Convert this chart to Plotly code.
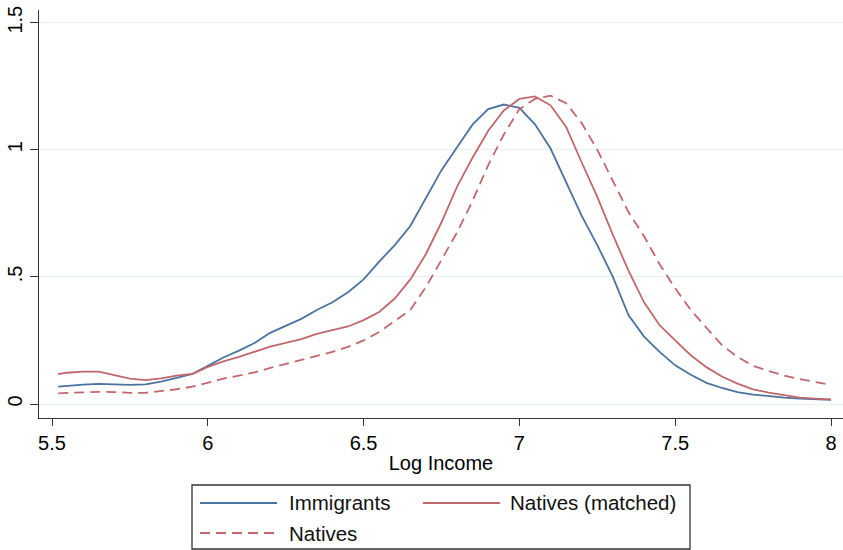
import plotly.graph_objects as go

# ---- data ----
log_income = [5.52, 5.55, 5.60, 5.65, 5.70, 5.75, 5.80, 5.85, 5.90, 5.95,
              6.00, 6.05, 6.10, 6.15, 6.20, 6.25, 6.30, 6.35, 6.40, 6.45,
              6.50, 6.55, 6.60, 6.65, 6.70, 6.75, 6.80, 6.85, 6.90, 6.95,
              7.00, 7.05, 7.10, 7.15, 7.20, 7.25, 7.30, 7.35, 7.40, 7.45,
              7.50, 7.55, 7.60, 7.65, 7.70, 7.75, 7.80, 7.85, 7.90, 7.95, 8.00]

immigrants = [0.068, 0.072, 0.076, 0.079, 0.077, 0.075, 0.077, 0.088, 0.103, 0.118,
              0.150, 0.183, 0.210, 0.240, 0.280, 0.308, 0.335, 0.370, 0.400, 0.440,
              0.490, 0.560, 0.625, 0.700, 0.810, 0.920, 1.010, 1.100, 1.160, 1.178,
              1.165, 1.100, 1.005, 0.870, 0.740, 0.625, 0.500, 0.350, 0.265, 0.205,
              0.152, 0.115, 0.083, 0.063, 0.047, 0.037, 0.030, 0.025, 0.021, 0.018, 0.016]

natives_matched = [0.118, 0.123, 0.127, 0.127, 0.114, 0.100, 0.094, 0.101, 0.112, 0.118,
                   0.146, 0.168, 0.185, 0.205, 0.226, 0.240, 0.255, 0.276, 0.290, 0.305,
                   0.330, 0.362, 0.415, 0.490, 0.590, 0.715, 0.855, 0.970, 1.075, 1.155,
                   1.200, 1.210, 1.175, 1.090, 0.950, 0.815, 0.665, 0.525, 0.400, 0.310,
                   0.250, 0.192, 0.145, 0.108, 0.080, 0.058, 0.045, 0.034, 0.025, 0.021, 0.018]

natives = [0.042, 0.044, 0.047, 0.048, 0.047, 0.044, 0.044, 0.050, 0.058, 0.068,
           0.085, 0.100, 0.112, 0.124, 0.142, 0.158, 0.172, 0.190, 0.205, 0.225,
           0.250, 0.283, 0.325, 0.370, 0.460, 0.565, 0.675, 0.800, 0.940, 1.060,
           1.160, 1.200, 1.213, 1.183, 1.105, 1.000, 0.875, 0.755, 0.660, 0.550,
           0.455, 0.370, 0.300, 0.232, 0.185, 0.150, 0.130, 0.112, 0.098, 0.085, 0.075]

x_ticks = [5.5, 6, 6.5, 7, 7.5, 8]
x_tick_labels = ["5.5", "6", "6.5", "7", "7.5", "8"]
y_ticks = [0, 0.5, 1, 1.5]
y_tick_labels = ["0", ".5", "1", "1.5"]
legend_names = ["Immigrants", "Natives (matched)", "Natives"]

# ---- style ----
BLUE = "#4a73a0"
RED = "#c0686d"
DASH = "10px,6px"
FONT = "Liberation Sans, Arial, sans-serif"
W, H = 843, 550
L, R, T, B = 39, 0, 10, 132
pw, ph = W - L - R, H - T - B

def px_x(p):
    return (p - L) / pw

def px_y(p):
    return (H - B - p) / ph

fig = go.Figure()
fig.add_trace(go.Scatter(x=log_income, y=immigrants, mode="lines", name=legend_names[0],
                         line=dict(color=BLUE, width=1.8)))
fig.add_trace(go.Scatter(x=log_income, y=natives_matched, mode="lines", name=legend_names[1],
                         line=dict(color=RED, width=1.8)))
fig.add_trace(go.Scatter(x=log_income, y=natives, mode="lines", name=legend_names[2],
                         line=dict(color=RED, width=1.8, dash=DASH)))

fig.update_layout(
    width=W, height=H,
    margin=dict(l=L, r=R, t=T, b=B, pad=0),
    paper_bgcolor="white", plot_bgcolor="white",
    showlegend=False,
    font=dict(family=FONT, size=20, color="#000000"),
)

fig.update_xaxes(
    range=[5.5 - 13 / 311.6, 8 + 12 / 311.6],
    tickmode="array", tickvals=x_ticks, ticktext=x_tick_labels,
    ticks="outside", ticklen=7, tickwidth=1.3, tickcolor="#333333",
    showline=True, linecolor="#333333", linewidth=1.3,
    showgrid=False, zeroline=False,
    tickfont=dict(size=20, family=FONT),
    title=dict(text="Log Income", font=dict(size=20, family=FONT), standoff=2),
)
fig.update_yaxes(
    range=[-14 / 254.2, 1.5 + 12.7 / 254.2],
    tickmode="array", tickvals=y_ticks, ticktext=y_tick_labels,
    tickangle=-90,
    ticks="outside", ticklen=8, tickwidth=1.3, tickcolor="#333333",
    showline=True, linecolor="#333333", linewidth=1.3,
    showgrid=True, gridcolor="#e6eff1", gridwidth=1.2,
    zeroline=False,
    tickfont=dict(size=20, family=FONT),
)

# ---- custom legend box (Stata style) ----
shapes = [dict(type="rect", xref="paper", yref="paper",
               x0=px_x(192), x1=px_x(690), y0=px_y(549), y1=px_y(485),
               line=dict(color="#333333", width=1.3), fillcolor="white", layer="above")]
entries = [
    (200, 277, 503, BLUE, "solid", 287, legend_names[0]),
    (423, 500, 503, RED, "solid", 508, legend_names[1]),
    (200, 277, 533, RED, DASH, 287, legend_names[2]),
]
annotations = []
for x0, x1, yy, col, dash, tx, name in entries:
    shapes.append(dict(type="line", xref="paper", yref="paper",
                       x0=px_x(x0), x1=px_x(x1), y0=px_y(yy), y1=px_y(yy),
                       line=dict(color=col, width=1.8, dash=dash)))
    annotations.append(dict(xref="paper", yref="paper", x=px_x(tx), y=px_y(yy),
                            xanchor="left", yanchor="middle", showarrow=False,
                            text=name, font=dict(size=20.5, family=FONT, color="#111111")))
fig.update_layout(shapes=shapes, annotations=annotations)

fig.write_html("out.html",
               config={"displayModeBar": False},
               post_script="document.body.style.margin='0';document.body.style.padding='0';")
